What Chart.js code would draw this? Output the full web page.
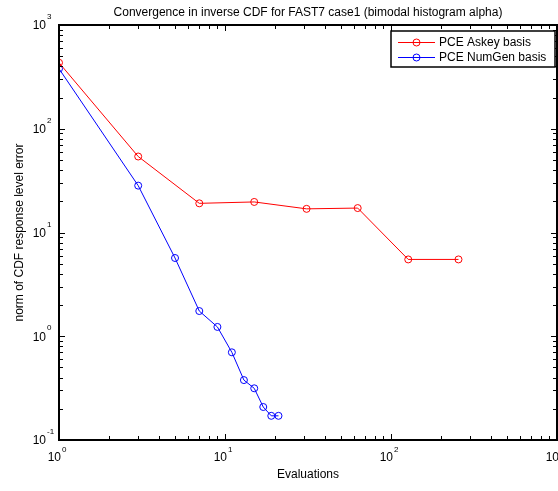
<!DOCTYPE html>
<html><head><meta charset="utf-8">
<script src="https://cdn.jsdelivr.net/npm/chart.js@4/dist/chart.umd.min.js"></script>
<style>
html,body{margin:0;padding:0;background:#fff;overflow:hidden;}
#wrap{width:562px;height:491px;position:relative;}
</style></head>
<body><div id="wrap"><canvas id="c" width="562" height="491"></canvas></div>
<script>
const titleText = "Convergence in inverse CDF for FAST7 case1 (bimodal histogram alpha)";
const xTitle = "Evaluations";
const yTitle = "norm of CDF response level error";
const seriesNames = ["PCE Askey basis", "PCE NumGen basis"];
const askeyX = [1, 3, 7, 15, 31, 63, 127, 255];
const askeyY = [433, 54, 19.1, 19.7, 16.9, 17.2, 5.5, 5.5];
const numgenX = [1, 3, 5, 7, 9, 11, 13, 15, 17, 19, 21];
const numgenY = [379, 28.3, 5.68, 1.75, 1.23, 0.70, 0.378, 0.315, 0.208, 0.171, 0.171];
const xTickExps = [0, 1, 2, 3];
const yTickExps = [-1, 0, 1, 2, 3];

const FONT = '"Liberation Sans", Arial, sans-serif';

const decor = {
  id: 'decor',
  afterDraw(chart) {
    const ctx = chart.ctx, a = chart.chartArea;
    const xs = chart.scales.x, ys = chart.scales.y;
    const L = Math.round(a.left), R = Math.round(a.right), T = Math.round(a.top), B = Math.round(a.bottom);
    ctx.save();
    // box
    ctx.strokeStyle = '#000'; ctx.lineWidth = 2;
    ctx.strokeRect(L, T, R - L, B - T);
    ctx.lineWidth = 1;
    // ticks
    ctx.beginPath();
    for (let e = xTickExps[0]; e <= xTickExps[xTickExps.length - 1]; e++) {
      for (let m = 1; m <= 9; m++) {
        const v = m * Math.pow(10, e);
        if (v > 1000) break;
        const px = Math.round(xs.getPixelForValue(v)) + 0.5;
        const len = m === 1 ? 6 : 4;
        ctx.moveTo(px, B); ctx.lineTo(px, B - len);
        ctx.moveTo(px, T); ctx.lineTo(px, T + len);
      }
    }
    for (let e = yTickExps[0]; e <= yTickExps[yTickExps.length - 1]; e++) {
      for (let m = 1; m <= 9; m++) {
        const v = m * Math.pow(10, e);
        if (v > 1000) break;
        const py = Math.round(ys.getPixelForValue(v)) + 0.5;
        const len = m === 1 ? 6 : 4;
        ctx.moveTo(L, py); ctx.lineTo(L + len, py);
        ctx.moveTo(R, py); ctx.lineTo(R - len, py);
      }
    }
    ctx.stroke();
    // tick labels
    ctx.fillStyle = '#000';
    ctx.textBaseline = 'middle';
    xTickExps.forEach(e => {
      const px = xs.getPixelForValue(Math.pow(10, e));
      ctx.font = '12px ' + FONT;
      ctx.textAlign = 'right';
      ctx.fillText('10', px + 2, 458);
      ctx.font = '8px ' + FONT;
      ctx.textAlign = 'left';
      ctx.fillText(String(e), px + 3, 450);
    });
    yTickExps.forEach(e => {
      const py = ys.getPixelForValue(Math.pow(10, e));
      ctx.font = '12px ' + FONT;
      ctx.textAlign = 'right';
      ctx.fillText('10', 46, py + 1);
      ctx.font = '8px ' + FONT;
      ctx.textAlign = 'left';
      ctx.fillText(String(e), 47, py - 8);
    });
    // titles
    ctx.font = '12px ' + FONT;
    ctx.textAlign = 'center';
    ctx.fillText(titleText, (a.left + a.right) / 2, 13);
    ctx.fillText(xTitle, (a.left + a.right) / 2, 475);
    ctx.save();
    ctx.translate(20, (a.top + a.bottom) / 2);
    ctx.rotate(-Math.PI / 2);
    ctx.fillText(yTitle, 0, 0);
    ctx.restore();
    // legend
    const lx = 391, ly = 31, lw = 164, lh = 36;
    ctx.fillStyle = '#fff';
    ctx.fillRect(lx, ly, lw, lh);
    ctx.strokeStyle = '#000';
    ctx.lineWidth = 1.5;
    ctx.strokeRect(lx, ly, lw, lh);
    ctx.lineWidth = 1;
    const cols = chart.data.datasets.map(d => d.borderColor);
    [42, 57].forEach((yy, i) => {
      ctx.strokeStyle = cols[i];
      ctx.beginPath();
      ctx.moveTo(398, yy + 0.5); ctx.lineTo(435, yy + 0.5);
      ctx.stroke();
      ctx.beginPath();
      ctx.arc(416.5, yy + 0.5, 3.5, 0, Math.PI * 2);
      ctx.stroke();
      ctx.fillStyle = '#000';
      ctx.textAlign = 'left';
      ctx.font = '12px ' + FONT;
      ctx.fillText(chart.data.datasets[i].label, 439, yy + 1);
    });
    ctx.restore();
  }
};

new Chart(document.getElementById('c'), {
  type: 'line',
  data: {
    datasets: [
      { label: seriesNames[0], data: askeyX.map((x, i) => ({x, y: askeyY[i]})), borderColor: '#ff0000', borderWidth: 1,
        pointRadius: 3.5, pointBorderWidth: 1, pointBackgroundColor: 'rgba(0,0,0,0)', pointBorderColor: '#ff0000', tension: 0 },
      { label: seriesNames[1], data: numgenX.map((x, i) => ({x, y: numgenY[i]})), borderColor: '#0000ff', borderWidth: 1,
        pointRadius: 3.5, pointBorderWidth: 1, pointBackgroundColor: 'rgba(0,0,0,0)', pointBorderColor: '#0000ff', tension: 0 }
    ]
  },
  options: {
    responsive: false, animation: false, devicePixelRatio: 1,
    layout: { padding: { left: 59, top: 25, right: 4, bottom: 51 } },
    plugins: { legend: { display: false }, tooltip: { enabled: false } },
    scales: {
      x: { type: 'logarithmic', min: 1, max: 1000, display: false },
      y: { type: 'logarithmic', min: 0.1, max: 1000, display: false }
    }
  },
  plugins: [decor]
});
</script></body></html>
